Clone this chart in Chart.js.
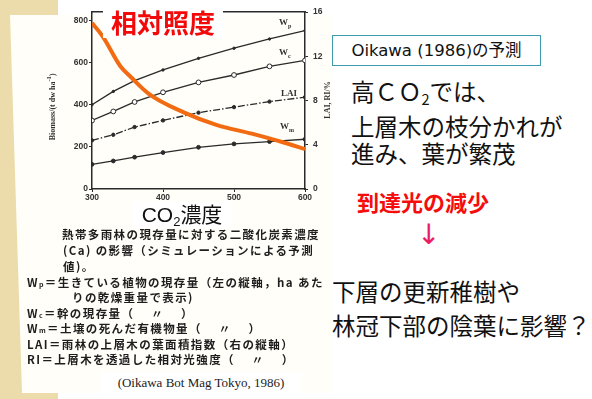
<!DOCTYPE html>
<html>
<head>
<meta charset="utf-8">
<script src="https://cdn.jsdelivr.net/npm/chart.js@4.4.1/dist/chart.umd.min.js"></script>
<style>
  body { margin: 0; width: 592px; height: 399px; background: #fff; position: relative; overflow: hidden;
         font-family: "Noto Sans CJK JP", sans-serif; }
  .abs { position: absolute; white-space: nowrap; }
  #beige { left: 0; top: 0; width: 58px; height: 399px; background: #ecdcab; }
  #paper { left: 10px; top: 15px; width: 322px; height: 378px; background: #fffef8;
           clip-path: polygon(0 0, 100% 0, 100% 100%, 12px 100%); }
  #chartBox { left: 30px; top: 0; width: 310px; height: 215px; }
  .scan { color: #1e1e1e; font-weight: 700; font-size: 11.5px; letter-spacing: 1.4px; filter: blur(0.4px); }
  .lbl { font-family: "Liberation Serif", serif; font-weight: 700; font-size: 9px; color: #333; }
  .vt { width: 120px; text-align: center; font-size: 8px; transform: rotate(-90deg); line-height: 12px; }
  .sub { font-size: 62%; vertical-align: -0.3em; }
  #ri-title { left: 103px; top: 6px; width: 120px; height: 32px; background: #fff; color: #f20a0a;
              font-weight: 700; font-size: 26px; line-height: 32px; text-align: center; }
  #co2-title { left: 132px; top: 201px; width: 100px; height: 27px; background: #fff; color: #111;
               font-size: 21px; line-height: 27px; text-align: center; font-family: "Liberation Sans", "Noto Sans CJK JP", sans-serif; }
  #cite { left: 100px; top: 372px; width: 202px; height: 21px; background: #fff; font-family: "Liberation Serif", serif;
          font-size: 13px; line-height: 21px; color: #222; text-align: center; }
  #oikawa { left: 332px; top: 35px; width: 207px; height: 29px; border: 1.5px solid #3f9bb0; background: #fff;
            font-family: "DejaVu Sans", "Noto Sans CJK JP", sans-serif; font-size: 16.5px; line-height: 29px;
            text-align: center; color: #111; }
  .big { font-size: 23.5px; color: #111; line-height: 27.5px; }
  #red2 { left: 357px; top: 185px; color: #f50c0c; font-weight: 700; font-size: 22px; }
  #arrow { left: 417px; top: 218px; color: #ec1c64; font-size: 28px; font-family: "DejaVu Sans", sans-serif; }
</style>
</head>
<body>
<div id="beige" class="abs"></div>
<div id="paper" class="abs"></div>

<div id="chartBox" class="abs"><canvas id="c" width="310" height="215"></canvas></div>

<!-- axis titles and curve labels from the scanned figure -->
<div class="abs lbl vt" style="left:-9px;top:99px;">Biomass/(t dw ha<sup>-1</sup>)</div>
<div class="abs lbl vt" style="left:268px;top:94px;">LAI, RI/%</div>
<div class="abs lbl" style="left:108px;top:29px;">RI</div>
<div class="abs lbl" style="left:279px;top:17px;">W<sub style="font-size:6px">p</sub></div>
<div class="abs lbl" style="left:279px;top:47px;">W<sub style="font-size:6px">c</sub></div>
<div class="abs lbl" style="left:281px;top:88px;">LAI</div>
<div class="abs lbl" style="left:280px;top:121px;">W<sub style="font-size:6px">m</sub></div>

<div id="ri-title" class="abs">相対照度</div>
<div id="co2-title" class="abs">CO<span class="sub">2</span>濃度</div>

<!-- caption of the scanned figure -->
<div class="abs scan" style="left:62px;top:226px;">熱帯多雨林の現存量に対する二酸化炭素濃度</div>
<div class="abs scan" style="left:63px;top:242px;">(Ca) の影響（シミュレーションによる予測</div>
<div class="abs scan" style="left:63px;top:258px;">値)。</div>
<div class="abs scan" style="left:27px;top:274px;">W<span style="font-size:7px">p</span>＝生きている植物の現存量（左の縦軸，ha あた</div>
<div class="abs scan" style="left:72px;top:289px;">りの乾燥重量で表示)</div>
<div class="abs scan" style="left:27px;top:305px;">W<span style="font-size:7px">c</span>＝幹の現存量（　 〃　 ）</div>
<div class="abs scan" style="left:27px;top:320px;">W<span style="font-size:7px">m</span>＝土壌の死んだ有機物量（　 〃　 ）</div>
<div class="abs scan" style="left:27px;top:336px;">LAI＝雨林の上層木の葉面積指数（右の縦軸）</div>
<div class="abs scan" style="left:27px;top:351px;">RI＝上層木を透過した相対光強度（　 〃　 ）</div>
<div id="cite" class="abs">(Oikawa Bot Mag Tokyo, 1986)</div>

<!-- slide text on the right -->
<div id="oikawa" class="abs">Oikawa (1986)の予測</div>
<div class="abs big" style="left:351px;top:78px;">高ＣＯ<span class="sub">2</span>では、<br>上層木の枝分かれが<br>進み、葉が繁茂</div>
<div id="red2" class="abs">到達光の減少</div>
<div id="arrow" class="abs">↓</div>
<div class="abs big" style="left:332px;top:274px;line-height:34px;">下層の更新稚樹や<br>林冠下部の陰葉に影響？</div>

<script>
// CO2 concentration (ppm) on the x axis
const co2 = [300, 330, 360, 400, 450, 500, 550, 600];
// biomass, t dw / ha (left axis)
const wp = [400, 463, 514, 565, 620, 668, 712, 752];
const wc = [325, 368, 413, 459, 506, 541, 582, 610];
const wm = [117, 133, 151, 173, 198, 214, 225, 236];
// LAI (right axis)
const lai = [4.4, 4.9, 5.6, 6.2, 6.9, 7.4, 7.9, 8.3];
// relative light (right axis), hand-drawn orange curve
const riX = [300, 315, 340, 355, 380, 430, 475, 525, 570, 600];
const riY = [15.0, 13.8, 11.1, 10.1, 8.6, 6.9, 5.8, 5.0, 4.2, 3.6];

const leftTicks = [0, 200, 400, 600, 800];
const rightTicks = [0, 4, 8, 12, 16];
const xTicks = [300, 400, 500, 600];

const ink = '#2a2a2a';
const tickFont = { family: 'Liberation Sans', size: 8.5, weight: 'bold' };

function pts(xs, ys) {
    return xs.map((x, i) => ({ x: x, y: ys[i] }));
}

const scanLine = {
    borderColor: ink, borderWidth: 1.3, pointBackgroundColor: ink, pointBorderColor: ink,
    pointBorderWidth: 1, tension: 0, order: 1
};

new Chart(document.getElementById('c'), {
    type: 'line',
    data: {
        datasets: [
            { ...scanLine, label: 'RI', data: pts(riX, riY), yAxisID: 'y1', borderColor: '#f26b12', borderWidth: 4,
              pointRadius: 0, cubicInterpolationMode: 'monotone', order: 0 },
            { ...scanLine, label: 'Wp', data: pts(co2, wp), yAxisID: 'y', pointRadius: 1.2 },
            { ...scanLine, label: 'Wc', data: pts(co2, wc), yAxisID: 'y', pointRadius: 2.4,
              pointBackgroundColor: '#fff' },
            { ...scanLine, label: 'LAI', data: pts(co2, lai), yAxisID: 'y1', pointRadius: 1.7,
              borderDash: [7, 2, 1.5, 2] },
            { ...scanLine, label: 'Wm', data: pts(co2, wm), yAxisID: 'y', pointRadius: 1.9 }
        ]
    },
    options: {
        responsive: false,
        animation: false,
        devicePixelRatio: 1,
        layout: { padding: { top: 12, left: 0, right: 0, bottom: 0 } },
        plugins: { legend: { display: false }, tooltip: { enabled: false } },
        scales: {
            x: {
                type: 'linear', min: 300, max: 600,
                afterBuildTicks: s => { s.ticks = xTicks.map(v => ({ value: v })); },
                afterFit: s => { s.height = 26; },
                ticks: { font: tickFont, color: '#333', padding: 1, maxRotation: 0 },
                grid: { drawOnChartArea: false, tickLength: 3, color: ink },
                border: { color: ink, width: 1.5 }
            },
            xTop: {
                type: 'linear', position: 'top', min: 300, max: 600,
                afterFit: s => { s.height = 0; },
                ticks: { display: false },
                grid: { display: false },
                border: { color: ink, width: 1.5 }
            },
            y: {
                min: 0, max: 840,
                afterBuildTicks: s => { s.ticks = leftTicks.map(v => ({ value: v })); },
                afterFit: s => { s.width = 62; },
                ticks: { font: tickFont, color: '#333', padding: 1 },
                grid: { drawOnChartArea: false, tickLength: 3, color: ink },
                border: { color: ink, width: 1.5 }
            },
            y1: {
                position: 'right', min: 0, max: 16,
                afterBuildTicks: s => { s.ticks = rightTicks.map(v => ({ value: v })); },
                afterFit: s => { s.width = 35; },
                ticks: { font: tickFont, color: '#333', padding: 5 },
                grid: { drawOnChartArea: false, tickLength: 3, color: ink },
                border: { color: ink, width: 1.5 }
            }
        }
    }
});
</script>
</body>
</html>
